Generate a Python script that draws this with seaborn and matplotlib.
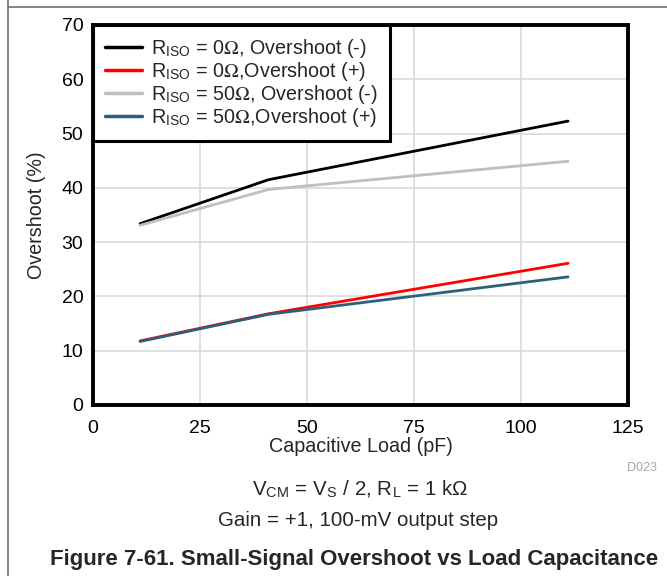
import pandas as pd
import seaborn as sns
import matplotlib.pyplot as plt
from matplotlib.lines import Line2D

# data
cap_load = [11, 41, 111]
os_r0_neg = [33.4, 41.5, 52.3]
os_r0_pos = [11.8, 16.8, 26.1]
os_r50_neg = [33.1, 39.7, 44.9]
os_r50_pos = [11.7, 16.7, 23.6]

labels = [r'R$_{\mathregular{ISO}}$ = 0$\Omega$, Overshoot (-)',
          r'R$_{\mathregular{ISO}}$ = 0$\Omega$,Overshoot (+)',
          r'R$_{\mathregular{ISO}}$ = 50$\Omega$, Overshoot (-)',
          r'R$_{\mathregular{ISO}}$ = 50$\Omega$,Overshoot (+)']
colors = ['#000000', '#ff0000', '#bfbfbf', '#2d5f7b']

rows = []
for lab, vals in zip(labels, [os_r0_neg, os_r0_pos, os_r50_neg, os_r50_pos]):
    for x, y in zip(cap_load, vals):
        rows.append({'cap': x, 'overshoot': y, 'series': lab})
df = pd.DataFrame(rows)

sns.set_style("white")
plt.rcParams['font.family'] = ['Liberation Sans', 'DejaVu Sans']
plt.rcParams['mathtext.fontset'] = 'stix'

fs = 14
fig = plt.figure(figsize=(6.67, 5.76), dpi=100)
ax = fig.add_axes([0.1394, 0.2969, 0.8021, 0.6597])

sns.lineplot(data=df, x='cap', y='overshoot', hue='series', hue_order=labels,
             palette=colors, linewidth=2.0, ax=ax, legend=False)

ax.set_xlim(0, 125)
ax.set_ylim(0, 70)
ax.set_xticks([0, 25, 50, 75, 100, 125])
ax.set_yticks(range(0, 71, 10))
ax.grid(True, color='#d9d9d9', linewidth=1.2)
ax.set_axisbelow(True)
ax.tick_params(axis='x', length=0, labelsize=fs, pad=11, colors='black')
ax.tick_params(axis='y', length=0, labelsize=fs, pad=7, colors='black')
for s in ax.spines.values():
    s.set_visible(True)
    s.set_color('black')
    s.set_linewidth(2.8)
ax.set_xlabel('Capacitive Load (pF)', fontsize=14.2, labelpad=0)
ax.set_ylabel('Overshoot (%)', fontsize=14.2)
ax.yaxis.set_label_coords(-0.088, 0.5)

handles = [Line2D([], [], color=c, linewidth=2.5) for c in colors]
leg = ax.legend(handles, labels, loc='upper left', fontsize=14.2, frameon=True,
                fancybox=False, borderaxespad=0, handlelength=1.9,
                handletextpad=0.45, labelspacing=0.0, borderpad=0.6)
leg.get_frame().set_edgecolor('black')
leg.get_frame().set_linewidth(2.2)
leg.get_frame().set_alpha(1)

fig.text(657 / 667, 1 - 468 / 576, 'D023', ha='right', va='center',
         fontsize=9, color='#a6a6a6')
fig.text(360 / 667, 1 - 489 / 576, r'V$_{\mathregular{CM}}$ = V$_{\mathregular{S}}$ / 2, R$_{\mathregular{L}}$ = 1 kΩ',
         ha='center', va='center', fontsize=14.8)
fig.text(358 / 667, 1 - 520 / 576, 'Gain = +1, 100-mV output step',
         ha='center', va='center', fontsize=14.8)
fig.text(354 / 667, 1 - 560 / 576, 'Figure 7-61. Small-Signal Overshoot vs Load Capacitance',
         ha='center', va='center', fontsize=16, fontweight='bold')

# page border lines
fig.add_artist(Line2D([8 / 667, 1], [1 - 7 / 576, 1 - 7 / 576], color='#707070', linewidth=1.2))
fig.add_artist(Line2D([8 / 667, 8 / 667], [0, 1], color='#707070', linewidth=1.2))

fig.savefig('out.png', dpi=100)
